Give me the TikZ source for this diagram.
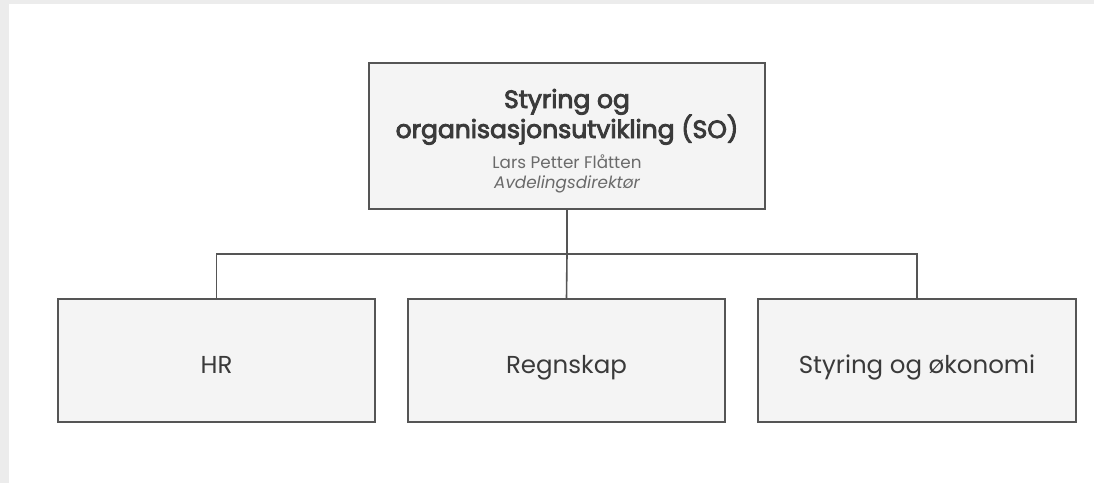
\documentclass[tikz,border=0pt]{standalone}
\usepackage{fontspec}
\setmainfont{Poppins}
\newfontfamily\titlefont{Poppins}[FakeBold=3.5]
\definecolor{bggray}{HTML}{ECECEC}
\definecolor{boxfill}{HTML}{F4F4F4}
\definecolor{linegray}{HTML}{555555}
\definecolor{txtdark}{HTML}{3A3A3A}
\definecolor{txtlight}{HTML}{6A6A6A}
\begin{document}
\begin{tikzpicture}[x=1pt,y=-1pt,
  orgbox/.style={draw=linegray,line width=1.6pt,fill=boxfill,rectangle,inner sep=0pt},
  conn/.style={draw=linegray,line width=1.6pt},
  titletxt/.style={anchor=base,text=txtdark,font=\titlefont\fontsize{25}{28}\selectfont,inner sep=0pt},
  subtxt/.style={anchor=base,text=txtlight,font=\fontsize{16.8}{19}\selectfont,inner sep=0pt},
  unittxt/.style={anchor=base,text=txtdark,font=\fontsize{24.5}{28}\selectfont,inner sep=0pt}]
\useasboundingbox (0,0) rectangle (1094,483);
\fill[bggray] (0,0) rectangle (1094,483);
\fill[white] (9,4) rectangle (1094,483);
% top box
\node[orgbox,minimum width=396pt,minimum height=146pt] (so) at (567,136) {};
\node[titletxt] (t1) at (567,108) {Styring og};
\node[titletxt] (t2) at (567,138) {organisasjonsutvikling (SO)};
\node[subtxt] (t3) at (567,168) {Lars Petter Flåtten};
\node[subtxt,font=\fontsize{16.8}{19}\selectfont\itshape] (t4) at (567,188) {Avdelingsdirektør};
% bottom boxes
\node[orgbox,minimum width=317pt,minimum height=123pt] (hr) at (216.5,360.5) {};
\node[orgbox,minimum width=317pt,minimum height=123pt] (rs) at (566.5,360.5) {};
\node[orgbox,minimum width=318pt,minimum height=123pt] (se) at (917,360.5) {};
\node[unittxt] (l1) at (216.5,373) {HR};
\node[unittxt] (l2) at (566.5,373) {Regnskap};
\node[unittxt] (l3) at (917,373) {Styring og økonomi};
% connectors
\coordinate (bar) at (567,254);
\draw[conn] (so.south) -- (bar) -- (rs.north);
\draw[conn] (hr.north) |- (bar) -| (se.north);
\end{tikzpicture}
\end{document}
